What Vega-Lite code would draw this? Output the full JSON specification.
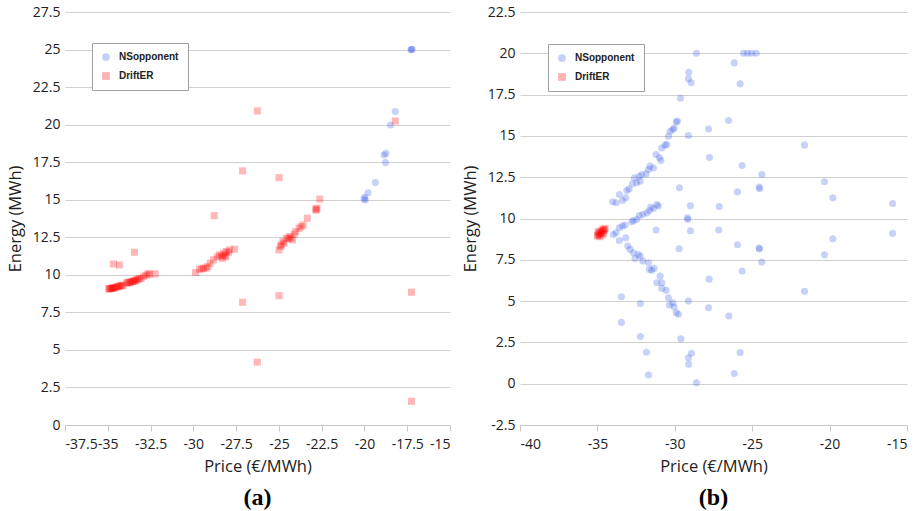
{
  "$schema": "https://vega.github.io/schema/vega-lite/v6.json",
  "padding": {"left": 7, "top": 5, "right": 5, "bottom": 2},
  "background": "white",
  "spacing": 70,
  "bounds": "flush",
  "config": {
    "view": {"stroke": null},
    "font": "Open Sans",
    "axis": {"labelFont": "Open Sans", "labelFontSize": 14, "labelColor": "#222", "titleFont": "Open Sans", "titleFontSize": 16.5, "titleFontWeight": "normal", "titleColor": "#222", "labelOverlap": false, "labelBound": false, "labelExpr": "replace(datum.label, '−', '-')"},
    "axisX": {"grid": false, "domainColor": "#c8c8c8", "tickColor": "#c8c8c8", "tickSize": 6, "labelPadding": 6, "titlePadding": 7},
    "axisY": {"grid": true, "gridColor": "#d0d0d0", "domain": false, "ticks": false, "labelPadding": 5, "titlePadding": 9},
    "legend": {"strokeColor": "#a0a0a0", "fillColor": "#ffffff", "padding": 9, "rowPadding": 9, "labelFont": "Liberation Sans", "labelFontSize": 10, "labelFontWeight": "bold", "labelColor": "#222", "symbolSize": 60, "symbolOpacity": 0.3, "labelOffset": 8, "symbolStrokeWidth": 0}
  },
  "datasets": {
    "a": [
      {"price": -17.25, "energy": 25.0, "series": "NSopponent"},
      {"price": -17.22, "energy": 25.02, "series": "NSopponent"},
      {"price": -17.28, "energy": 24.98, "series": "NSopponent"},
      {"price": -18.2, "energy": 20.87, "series": "NSopponent"},
      {"price": -18.48, "energy": 19.98, "series": "NSopponent"},
      {"price": -18.85, "energy": 17.98, "series": "NSopponent"},
      {"price": -18.75, "energy": 18.09, "series": "NSopponent"},
      {"price": -18.77, "energy": 17.47, "series": "NSopponent"},
      {"price": -19.36, "energy": 16.14, "series": "NSopponent"},
      {"price": -19.79, "energy": 15.47, "series": "NSopponent"},
      {"price": -19.98, "energy": 15.16, "series": "NSopponent"},
      {"price": -19.95, "energy": 14.98, "series": "NSopponent"},
      {"price": -20.02, "energy": 15.05, "series": "NSopponent"},
      {"price": -26.26, "energy": 20.91, "series": "DriftER"},
      {"price": -18.2, "energy": 20.24, "series": "DriftER"},
      {"price": -27.12, "energy": 16.92, "series": "DriftER"},
      {"price": -24.99, "energy": 16.47, "series": "DriftER"},
      {"price": -28.78, "energy": 13.94, "series": "DriftER"},
      {"price": -33.44, "energy": 11.5, "series": "DriftER"},
      {"price": -34.67, "energy": 10.72, "series": "DriftER"},
      {"price": -34.32, "energy": 10.66, "series": "DriftER"},
      {"price": -27.12, "energy": 8.17, "series": "DriftER"},
      {"price": -24.99, "energy": 8.61, "series": "DriftER"},
      {"price": -17.25, "energy": 8.84, "series": "DriftER"},
      {"price": -26.26, "energy": 4.18, "series": "DriftER"},
      {"price": -17.25, "energy": 1.58, "series": "DriftER"},
      {"price": -34.95, "energy": 9.05, "series": "DriftER"},
      {"price": -34.9, "energy": 9.08, "series": "DriftER"},
      {"price": -34.85, "energy": 9.08, "series": "DriftER"},
      {"price": -34.8, "energy": 9.1, "series": "DriftER"},
      {"price": -34.75, "energy": 9.1, "series": "DriftER"},
      {"price": -34.71, "energy": 9.12, "series": "DriftER"},
      {"price": -34.65, "energy": 9.14, "series": "DriftER"},
      {"price": -34.6, "energy": 9.13, "series": "DriftER"},
      {"price": -34.52, "energy": 9.17, "series": "DriftER"},
      {"price": -34.45, "energy": 9.2, "series": "DriftER"},
      {"price": -34.4, "energy": 9.22, "series": "DriftER"},
      {"price": -34.32, "energy": 9.26, "series": "DriftER"},
      {"price": -34.25, "energy": 9.25, "series": "DriftER"},
      {"price": -34.18, "energy": 9.3, "series": "DriftER"},
      {"price": -34.12, "energy": 9.3, "series": "DriftER"},
      {"price": -33.9, "energy": 9.45, "series": "DriftER"},
      {"price": -33.83, "energy": 9.48, "series": "DriftER"},
      {"price": -33.75, "energy": 9.5, "series": "DriftER"},
      {"price": -33.7, "energy": 9.47, "series": "DriftER"},
      {"price": -33.64, "energy": 9.55, "series": "DriftER"},
      {"price": -33.55, "energy": 9.55, "series": "DriftER"},
      {"price": -33.5, "energy": 9.58, "series": "DriftER"},
      {"price": -33.44, "energy": 9.59, "series": "DriftER"},
      {"price": -33.38, "energy": 9.6, "series": "DriftER"},
      {"price": -33.3, "energy": 9.68, "series": "DriftER"},
      {"price": -33.25, "energy": 9.7, "series": "DriftER"},
      {"price": -33.15, "energy": 9.75, "series": "DriftER"},
      {"price": -33.05, "energy": 9.77, "series": "DriftER"},
      {"price": -32.9, "energy": 9.9, "series": "DriftER"},
      {"price": -32.76, "energy": 9.97, "series": "DriftER"},
      {"price": -32.65, "energy": 10.05, "series": "DriftER"},
      {"price": -32.56, "energy": 10.06, "series": "DriftER"},
      {"price": -32.23, "energy": 10.06, "series": "DriftER"},
      {"price": -29.87, "energy": 10.15, "series": "DriftER"},
      {"price": -29.64, "energy": 10.37, "series": "DriftER"},
      {"price": -29.5, "energy": 10.4, "series": "DriftER"},
      {"price": -29.4, "energy": 10.44, "series": "DriftER"},
      {"price": -29.25, "energy": 10.45, "series": "DriftER"},
      {"price": -29.15, "energy": 10.55, "series": "DriftER"},
      {"price": -29.01, "energy": 10.77, "series": "DriftER"},
      {"price": -28.82, "energy": 11.0, "series": "DriftER"},
      {"price": -28.6, "energy": 11.2, "series": "DriftER"},
      {"price": -28.47, "energy": 11.33, "series": "DriftER"},
      {"price": -28.35, "energy": 11.25, "series": "DriftER"},
      {"price": -28.3, "energy": 11.1, "series": "DriftER"},
      {"price": -28.23, "energy": 11.44, "series": "DriftER"},
      {"price": -28.15, "energy": 11.3, "series": "DriftER"},
      {"price": -28.1, "energy": 11.2, "series": "DriftER"},
      {"price": -28.08, "energy": 11.55, "series": "DriftER"},
      {"price": -27.95, "energy": 11.5, "series": "DriftER"},
      {"price": -27.88, "energy": 11.66, "series": "DriftER"},
      {"price": -27.59, "energy": 11.71, "series": "DriftER"},
      {"price": -24.99, "energy": 11.66, "series": "DriftER"},
      {"price": -24.9, "energy": 11.9, "series": "DriftER"},
      {"price": -24.86, "energy": 12.0, "series": "DriftER"},
      {"price": -24.76, "energy": 12.22, "series": "DriftER"},
      {"price": -24.7, "energy": 12.1, "series": "DriftER"},
      {"price": -24.56, "energy": 12.44, "series": "DriftER"},
      {"price": -24.45, "energy": 12.4, "series": "DriftER"},
      {"price": -24.37, "energy": 12.55, "series": "DriftER"},
      {"price": -24.3, "energy": 12.45, "series": "DriftER"},
      {"price": -24.21, "energy": 12.33, "series": "DriftER"},
      {"price": -24.1, "energy": 12.7, "series": "DriftER"},
      {"price": -24.02, "energy": 12.88, "series": "DriftER"},
      {"price": -23.82, "energy": 13.1, "series": "DriftER"},
      {"price": -23.7, "energy": 13.2, "series": "DriftER"},
      {"price": -23.59, "energy": 13.32, "series": "DriftER"},
      {"price": -23.34, "energy": 13.77, "series": "DriftER"},
      {"price": -22.85, "energy": 14.37, "series": "DriftER"},
      {"price": -22.77, "energy": 14.44, "series": "DriftER"},
      {"price": -22.81, "energy": 14.3, "series": "DriftER"},
      {"price": -22.61, "energy": 15.04, "series": "DriftER"}
    ],
    "b": [
      {"price": -35.0, "energy": 8.95, "series": "DriftER"},
      {"price": -34.95, "energy": 9.0, "series": "DriftER"},
      {"price": -34.9, "energy": 9.1, "series": "DriftER"},
      {"price": -34.85, "energy": 9.05, "series": "DriftER"},
      {"price": -34.8, "energy": 9.2, "series": "DriftER"},
      {"price": -34.75, "energy": 9.15, "series": "DriftER"},
      {"price": -34.7, "energy": 9.3, "series": "DriftER"},
      {"price": -34.65, "energy": 9.25, "series": "DriftER"},
      {"price": -34.6, "energy": 9.35, "series": "DriftER"},
      {"price": -34.55, "energy": 9.3, "series": "DriftER"},
      {"price": -34.5, "energy": 9.4, "series": "DriftER"},
      {"price": -34.95, "energy": 9.2, "series": "DriftER"},
      {"price": -34.85, "energy": 8.9, "series": "DriftER"},
      {"price": -34.7, "energy": 9.0, "series": "DriftER"},
      {"price": -34.6, "energy": 9.1, "series": "DriftER"},
      {"price": -28.6, "energy": 20.0, "series": "NSopponent"},
      {"price": -25.56, "energy": 20.0, "series": "NSopponent"},
      {"price": -25.3, "energy": 20.0, "series": "NSopponent"},
      {"price": -25.04, "energy": 20.0, "series": "NSopponent"},
      {"price": -24.74, "energy": 20.0, "series": "NSopponent"},
      {"price": -26.16, "energy": 19.42, "series": "NSopponent"},
      {"price": -29.1, "energy": 18.85, "series": "NSopponent"},
      {"price": -29.12, "energy": 18.45, "series": "NSopponent"},
      {"price": -28.94, "energy": 18.21, "series": "NSopponent"},
      {"price": -25.78, "energy": 18.15, "series": "NSopponent"},
      {"price": -29.63, "energy": 17.28, "series": "NSopponent"},
      {"price": -26.53, "energy": 15.93, "series": "NSopponent"},
      {"price": -27.82, "energy": 15.42, "series": "NSopponent"},
      {"price": -29.12, "energy": 15.02, "series": "NSopponent"},
      {"price": -21.62, "energy": 14.44, "series": "NSopponent"},
      {"price": -27.76, "energy": 13.69, "series": "NSopponent"},
      {"price": -25.65, "energy": 13.21, "series": "NSopponent"},
      {"price": -24.38, "energy": 12.66, "series": "NSopponent"},
      {"price": -20.33, "energy": 12.22, "series": "NSopponent"},
      {"price": -29.7, "energy": 11.86, "series": "NSopponent"},
      {"price": -24.55, "energy": 11.9, "series": "NSopponent"},
      {"price": -24.52, "energy": 11.8, "series": "NSopponent"},
      {"price": -25.95, "energy": 11.61, "series": "NSopponent"},
      {"price": -19.79, "energy": 11.25, "series": "NSopponent"},
      {"price": -15.93, "energy": 10.91, "series": "NSopponent"},
      {"price": -28.99, "energy": 10.77, "series": "NSopponent"},
      {"price": -27.13, "energy": 10.73, "series": "NSopponent"},
      {"price": -29.18, "energy": 10.04, "series": "NSopponent"},
      {"price": -29.16, "energy": 9.94, "series": "NSopponent"},
      {"price": -31.21, "energy": 9.3, "series": "NSopponent"},
      {"price": -28.99, "energy": 9.26, "series": "NSopponent"},
      {"price": -27.16, "energy": 9.3, "series": "NSopponent"},
      {"price": -15.93, "energy": 9.1, "series": "NSopponent"},
      {"price": -19.79, "energy": 8.77, "series": "NSopponent"},
      {"price": -29.72, "energy": 8.17, "series": "NSopponent"},
      {"price": -25.95, "energy": 8.41, "series": "NSopponent"},
      {"price": -24.55, "energy": 8.21, "series": "NSopponent"},
      {"price": -24.53, "energy": 8.15, "series": "NSopponent"},
      {"price": -24.38, "energy": 7.36, "series": "NSopponent"},
      {"price": -20.33, "energy": 7.8, "series": "NSopponent"},
      {"price": -27.78, "energy": 6.33, "series": "NSopponent"},
      {"price": -25.65, "energy": 6.82, "series": "NSopponent"},
      {"price": -21.62, "energy": 5.59, "series": "NSopponent"},
      {"price": -33.45, "energy": 5.26, "series": "NSopponent"},
      {"price": -29.12, "energy": 5.0, "series": "NSopponent"},
      {"price": -32.22, "energy": 4.86, "series": "NSopponent"},
      {"price": -27.82, "energy": 4.6, "series": "NSopponent"},
      {"price": -26.51, "energy": 4.1, "series": "NSopponent"},
      {"price": -33.45, "energy": 3.71, "series": "NSopponent"},
      {"price": -32.22, "energy": 2.86, "series": "NSopponent"},
      {"price": -29.61, "energy": 2.72, "series": "NSopponent"},
      {"price": -31.83, "energy": 1.9, "series": "NSopponent"},
      {"price": -25.78, "energy": 1.88, "series": "NSopponent"},
      {"price": -28.92, "energy": 1.84, "series": "NSopponent"},
      {"price": -29.12, "energy": 1.57, "series": "NSopponent"},
      {"price": -29.1, "energy": 1.17, "series": "NSopponent"},
      {"price": -31.7, "energy": 0.53, "series": "NSopponent"},
      {"price": -26.16, "energy": 0.61, "series": "NSopponent"},
      {"price": -28.6, "energy": 0.06, "series": "NSopponent"},
      {"price": -34.01, "energy": 11.01, "series": "NSopponent"},
      {"price": -33.79, "energy": 10.95, "series": "NSopponent"},
      {"price": -33.58, "energy": 11.45, "series": "NSopponent"},
      {"price": -33.38, "energy": 11.09, "series": "NSopponent"},
      {"price": -33.17, "energy": 11.25, "series": "NSopponent"},
      {"price": -33.1, "energy": 11.69, "series": "NSopponent"},
      {"price": -32.95, "energy": 11.79, "series": "NSopponent"},
      {"price": -32.74, "energy": 12.1, "series": "NSopponent"},
      {"price": -32.61, "energy": 12.46, "series": "NSopponent"},
      {"price": -32.46, "energy": 12.16, "series": "NSopponent"},
      {"price": -32.29, "energy": 12.56, "series": "NSopponent"},
      {"price": -32.24, "energy": 12.26, "series": "NSopponent"},
      {"price": -32.13, "energy": 12.66, "series": "NSopponent"},
      {"price": -31.85, "energy": 12.7, "series": "NSopponent"},
      {"price": -31.7, "energy": 12.96, "series": "NSopponent"},
      {"price": -31.6, "energy": 13.17, "series": "NSopponent"},
      {"price": -31.38, "energy": 13.06, "series": "NSopponent"},
      {"price": -31.21, "energy": 13.87, "series": "NSopponent"},
      {"price": -30.99, "energy": 13.67, "series": "NSopponent"},
      {"price": -30.9, "energy": 13.51, "series": "NSopponent"},
      {"price": -30.84, "energy": 14.27, "series": "NSopponent"},
      {"price": -30.63, "energy": 14.44, "series": "NSopponent"},
      {"price": -30.52, "energy": 14.48, "series": "NSopponent"},
      {"price": -30.41, "energy": 14.98, "series": "NSopponent"},
      {"price": -30.3, "energy": 15.28, "series": "NSopponent"},
      {"price": -30.13, "energy": 15.38, "series": "NSopponent"},
      {"price": -30.04, "energy": 15.48, "series": "NSopponent"},
      {"price": -29.91, "energy": 15.85, "series": "NSopponent"},
      {"price": -29.83, "energy": 15.89, "series": "NSopponent"},
      {"price": -33.97, "energy": 9.03, "series": "NSopponent"},
      {"price": -33.79, "energy": 9.13, "series": "NSopponent"},
      {"price": -33.58, "energy": 9.44, "series": "NSopponent"},
      {"price": -33.38, "energy": 9.54, "series": "NSopponent"},
      {"price": -33.21, "energy": 9.6, "series": "NSopponent"},
      {"price": -32.78, "energy": 9.8, "series": "NSopponent"},
      {"price": -32.67, "energy": 9.88, "series": "NSopponent"},
      {"price": -32.46, "energy": 9.94, "series": "NSopponent"},
      {"price": -32.29, "energy": 10.18, "series": "NSopponent"},
      {"price": -32.07, "energy": 10.24, "series": "NSopponent"},
      {"price": -31.81, "energy": 10.34, "series": "NSopponent"},
      {"price": -31.64, "energy": 10.48, "series": "NSopponent"},
      {"price": -31.55, "energy": 10.69, "series": "NSopponent"},
      {"price": -31.38, "energy": 10.61, "series": "NSopponent"},
      {"price": -31.16, "energy": 10.85, "series": "NSopponent"},
      {"price": -31.06, "energy": 10.75, "series": "NSopponent"},
      {"price": -33.58, "energy": 8.67, "series": "NSopponent"},
      {"price": -33.17, "energy": 8.83, "series": "NSopponent"},
      {"price": -33.04, "energy": 8.33, "series": "NSopponent"},
      {"price": -32.89, "energy": 8.13, "series": "NSopponent"},
      {"price": -32.67, "energy": 7.92, "series": "NSopponent"},
      {"price": -32.57, "energy": 7.58, "series": "NSopponent"},
      {"price": -32.35, "energy": 7.82, "series": "NSopponent"},
      {"price": -32.24, "energy": 7.72, "series": "NSopponent"},
      {"price": -32.07, "energy": 7.42, "series": "NSopponent"},
      {"price": -31.7, "energy": 7.32, "series": "NSopponent"},
      {"price": -31.64, "energy": 6.92, "series": "NSopponent"},
      {"price": -31.49, "energy": 6.86, "series": "NSopponent"},
      {"price": -31.34, "energy": 6.98, "series": "NSopponent"},
      {"price": -30.95, "energy": 6.51, "series": "NSopponent"},
      {"price": -31.16, "energy": 6.11, "series": "NSopponent"},
      {"price": -30.84, "energy": 6.11, "series": "NSopponent"},
      {"price": -30.84, "energy": 5.77, "series": "NSopponent"},
      {"price": -30.56, "energy": 5.65, "series": "NSopponent"},
      {"price": -30.41, "energy": 5.2, "series": "NSopponent"},
      {"price": -30.35, "energy": 4.76, "series": "NSopponent"},
      {"price": -30.13, "energy": 4.9, "series": "NSopponent"},
      {"price": -30.04, "energy": 4.64, "series": "NSopponent"},
      {"price": -29.91, "energy": 4.3, "series": "NSopponent"},
      {"price": -29.76, "energy": 4.2, "series": "NSopponent"}
    ]
  },
  "hconcat": [
    {
      "width": 385,
      "height": 413,
      "data": {"name": "a"},
      "title": {"text": "(a)", "orient": "bottom", "anchor": "middle", "font": "Liberation Serif", "fontSize": 24, "fontWeight": "bold", "color": "#000", "offset": 11},
      "mark": {"type": "point", "filled": true, "opacity": 0.28, "size": 50},
      "encoding": {
        "x": {"field": "price", "type": "quantitative", "scale": {"domain": [-37.5, -15], "nice": false, "zero": false}, "axis": {"values": [-37.5, -35, -32.5, -30, -27.5, -25, -22.5, -20, -17.5, -15], "format": ".1~f", "title": "Price (€/MWh)"}},
        "y": {"field": "energy", "type": "quantitative", "scale": {"domain": [0, 27.5], "nice": false, "zero": false}, "axis": {"values": [0, 2.5, 5, 7.5, 10, 12.5, 15, 17.5, 20, 22.5, 25, 27.5], "format": ".1~f", "title": "Energy (MWh)"}},
        "color": {"field": "series", "type": "nominal", "scale": {"domain": ["NSopponent", "DriftER"], "range": ["#3a5fe5", "#ff0000"]}, "legend": {"orient": "none", "legendX": 27, "legendY": 31, "title": null}},
        "shape": {"field": "series", "type": "nominal", "scale": {"domain": ["NSopponent", "DriftER"], "range": ["circle", "square"]}, "legend": {"orient": "none", "legendX": 27, "legendY": 31, "title": null}}
      }
    },
    {
      "width": 387,
      "height": 413,
      "data": {"name": "b"},
      "title": {"text": "(b)", "orient": "bottom", "anchor": "middle", "font": "Liberation Serif", "fontSize": 24, "fontWeight": "bold", "color": "#000", "offset": 11},
      "mark": {"type": "point", "filled": true, "opacity": 0.28, "size": 50},
      "encoding": {
        "x": {"field": "price", "type": "quantitative", "scale": {"domain": [-40, -15], "nice": false, "zero": false}, "axis": {"values": [-40, -35, -30, -25, -20, -15], "format": ".1~f", "title": "Price (€/MWh)"}},
        "y": {"field": "energy", "type": "quantitative", "scale": {"domain": [-2.5, 22.5], "nice": false, "zero": false}, "axis": {"values": [-2.5, 0, 2.5, 5, 7.5, 10, 12.5, 15, 17.5, 20, 22.5], "format": ".1~f", "title": "Energy (MWh)"}},
        "color": {"field": "series", "type": "nominal", "scale": {"domain": ["NSopponent", "DriftER"], "range": ["#3a5fe5", "#ff0000"]}, "legend": {"orient": "none", "legendX": 28, "legendY": 32, "title": null}},
        "shape": {"field": "series", "type": "nominal", "scale": {"domain": ["NSopponent", "DriftER"], "range": ["circle", "square"]}, "legend": {"orient": "none", "legendX": 28, "legendY": 32, "title": null}}
      }
    }
  ],
  "resolve": {"scale": {"color": "independent", "shape": "independent"}, "legend": {"color": "independent", "shape": "independent"}}
}
